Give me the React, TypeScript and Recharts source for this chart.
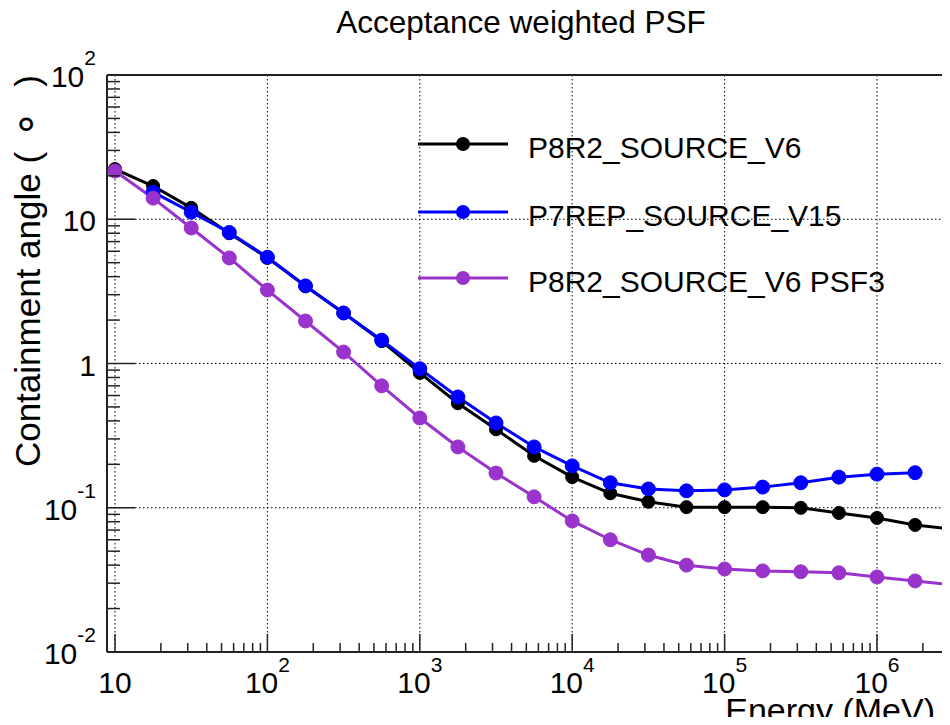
import React from 'react';
import { LineChart, Line, XAxis, YAxis, CartesianGrid, ReferenceLine, Legend } from 'recharts';

const FONT = '"Liberation Sans", Arial, Helvetica, sans-serif';

// energy bin centres (MeV), quarter-decade steps
const energy = [
  10, 17.78, 31.62, 56.23, 100, 177.8, 316.2, 562.3, 1000, 1778, 3162, 5623,
  10000, 17783, 31623, 56234, 100000, 177828, 316228, 562341, 1000000, 1778279, 3162278,
];

// 68% containment angle (deg)
const p8r2Source = [
  22.3, 17.0, 12.0, 8.0, 5.4, 3.45, 2.24, 1.43, 0.86, 0.53, 0.35, 0.229,
  0.163, 0.126, 0.11, 0.101, 0.101, 0.101, 0.0999, 0.092, 0.085, 0.076, 0.071,
];
const p7repSource = [
  null, 15.4, 11.2, 8.1, 5.45, 3.45, 2.24, 1.45, 0.92, 0.586, 0.387, 0.264,
  0.195, 0.149, 0.135, 0.131, 0.133, 0.139, 0.149, 0.163, 0.171, 0.175, null,
];
const p8r2Psf3 = [
  21.6, 14.0, 8.7, 5.39, 3.23, 1.97, 1.2, 0.7, 0.419, 0.264, 0.174, 0.119,
  0.081, 0.06, 0.047, 0.04, 0.0376, 0.0365, 0.036, 0.0354, 0.0331, 0.0311, 0.0291,
];

const seriesNames = ['P8R2_SOURCE_V6', 'P7REP_SOURCE_V15', 'P8R2_SOURCE_V6 PSF3'];
const seriesColors = ['#000000', '#0000ff', '#9933cc'];
const seriesKeys = ['p8r2', 'p7rep', 'psf3'];

const xDecades = [10, 100, 1e3, 1e4, 1e5, 1e6];
const xDecadeLabels = [
  { base: '10', exp: '' },
  { base: '10', exp: '2' },
  { base: '10', exp: '3' },
  { base: '10', exp: '4' },
  { base: '10', exp: '5' },
  { base: '10', exp: '6' },
];
const yDecades = [0.01, 0.1, 1, 10, 100];
const yDecadeLabels = [
  { base: '10', exp: '-2' },
  { base: '10', exp: '-1' },
  { base: '1', exp: '' },
  { base: '10', exp: '' },
  { base: '10', exp: '2' },
];
const minorSteps = [2, 3, 4, 5, 6, 7, 8, 9];

const xTicks = xDecades.flatMap((d) => [d, ...minorSteps.map((m) => d * m)]);
const yTicks = yDecades.flatMap((d, i) => (i < yDecades.length - 1 ? [d, ...minorSteps.map((m) => d * m)] : [d]));

const data = energy.map((e, i) => ({
  e,
  p8r2: p8r2Source[i],
  p7rep: p7repSource[i],
  psf3: p8r2Psf3[i],
}));

const findDecade = (list: number[], v: number) => list.findIndex((d) => Math.abs(v / d - 1) < 1e-6);

function XTick({ x, y, payload }: any) {
  const i = findDecade(xDecades, payload.value);
  const lab = i >= 0 ? xDecadeLabels[i] : null;
  return (
    <g>
      <line x1={x} x2={x} y1={y} y2={y - (lab ? 18 : 9)} stroke="#222" strokeWidth={1.5} />
      {lab && (
        <text x={x} y={y + 41} textAnchor="middle" fontSize={30} fontFamily={FONT} fill="#000">
          {lab.base}
          {lab.exp && (
            <tspan dy={-21} fontSize={21}>
              {lab.exp}
            </tspan>
          )}
        </text>
      )}
    </g>
  );
}

function YTick({ x, y, payload }: any) {
  const i = findDecade(yDecades, payload.value);
  const lab = i >= 0 ? yDecadeLabels[i] : null;
  return (
    <g>
      <line x1={x} x2={x + (lab ? 28 : 13)} y1={y} y2={y} stroke="#222" strokeWidth={1.5} />
      {lab && (
        <text x={x - 11} y={y + 12} textAnchor="end" fontSize={30} fontFamily={FONT} fill="#000">
          {lab.base}
          {lab.exp && (
            <tspan dy={-22} fontSize={21}>
              {lab.exp}
            </tspan>
          )}
        </text>
      )}
    </g>
  );
}

function LegendBox() {
  const rows = [34, 102, 168];
  return (
    <svg width={520} height={200} style={{ overflow: 'visible' }}>
      {seriesNames.map((name, i) => (
        <g key={name}>
          <line x1={18} x2={108} y1={rows[i]} y2={rows[i]} stroke={seriesColors[i]} strokeWidth={3} />
          <circle cx={63} cy={rows[i]} r={7} fill={seriesColors[i]} />
          <text x={128} y={rows[i] + 14} fontSize={30} fontFamily={FONT} fill="#000">
            {name}
          </text>
        </g>
      ))}
    </svg>
  );
}

export default function App() {
  return (
    <div style={{ width: 950, height: 725, overflow: 'hidden', margin: -8, background: '#fff', fontFamily: FONT }}>
      <LineChart width={1010} height={725} data={data} margin={{ top: 75, right: 0, left: 0, bottom: 0 }}>
        <CartesianGrid
          stroke="#000"
          strokeDasharray="1.5 2.5"
          fill="none"
          verticalValues={xDecades}
          horizontalValues={[0.1, 1, 10]}
        />
        <XAxis
          dataKey="e"
          type="number"
          scale="log"
          domain={[8.86, 7.46e6]}
          allowDataOverflow
          ticks={xTicks}
          interval={0}
          height={73}
          tickSize={0}
          tickMargin={0}
          tickLine={false}
          axisLine={{ stroke: '#222', strokeWidth: 2 }}
          tick={<XTick />}
          label={() => (
            <text x={935} y={722} textAnchor="end" fontSize={34} fontFamily={FONT} fill="#000">
              Energy (MeV)
            </text>
          )}
        />
        <YAxis
          type="number"
          scale="log"
          domain={[0.01, 100]}
          allowDataOverflow
          ticks={yTicks}
          interval={0}
          width={107}
          tickSize={0}
          tickMargin={0}
          tickLine={false}
          axisLine={{ stroke: '#222', strokeWidth: 2 }}
          tick={<YTick />}
          label={() => (
            <text
              x={40}
              y={75}
              transform="rotate(-90, 40, 75)"
              textAnchor="end"
              fontSize={35}
              fontFamily={FONT}
              fill="#000"
            >
              Containment angle (
              <tspan fontSize={44} fontFamily="DejaVu Sans">
                {'\u00a0∘\u00a0'}
              </tspan>
              {'\u00a0)'}
            </text>
          )}
        />
        <ReferenceLine
          y={100}
          stroke="#222"
          strokeWidth={2}
          label={() => (
            <text x={521} y={33} textAnchor="middle" fontSize={31.5} fontFamily={FONT} fill="#000">
              Acceptance weighted PSF
            </text>
          )}
        />
        {seriesKeys.map((k, i) => (
          <Line
            key={k}
            dataKey={k}
            name={seriesNames[i]}
            stroke={seriesColors[i]}
            strokeWidth={3}
            dot={{ r: i === 0 ? 6.5 : 7, fill: seriesColors[i], stroke: seriesColors[i], strokeWidth: 1 }}
            activeDot={false}
            isAnimationActive={false}
          />
        ))}
        <Legend
          layout="horizontal"
          verticalAlign="middle"
          align="center"
          wrapperStyle={{ left: 400, top: 110, width: 520, height: 200 }}
          content={() => <LegendBox />}
        />
      </LineChart>
    </div>
  );
}
